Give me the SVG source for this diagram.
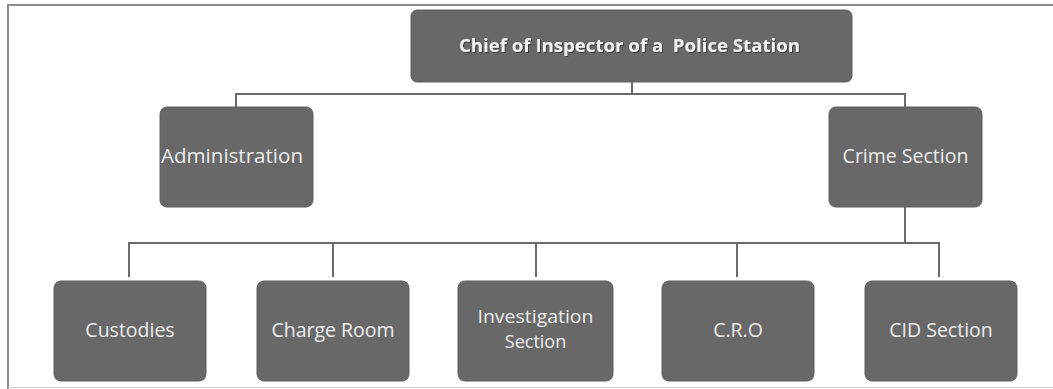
<svg xmlns="http://www.w3.org/2000/svg" width="1053" height="389" viewBox="0 0 1053 389">
  <style>
    .box { fill: #686868; stroke: #5e5e5e; stroke-width: 1; }
    .lbl { font-family: "Open Sans", "Liberation Sans", sans-serif; font-size: 19.5px; fill: #ececec; text-anchor: middle; }
    .lbl2 { font-size: 18px; }
    .title { font-family: "Open Sans", "Liberation Sans", sans-serif; font-size: 18.5px; font-weight: bold; fill: #f2f2f2; text-anchor: middle; white-space: pre; }
    .conn { fill: none; stroke: #6a6a6a; stroke-width: 2; }
    .frame { fill: none; stroke: #8c8c8c; stroke-width: 2; }
  </style>
  <defs>
    <filter id="txtShadow" x="-5%" y="-20%" width="110%" height="140%">
      <feDropShadow dx="1" dy="1" stdDeviation="0.6" flood-color="#202020" flood-opacity="0.6"/>
    </filter>
  </defs>

  <rect width="1053" height="389" fill="#ffffff"/>

  <!-- outer frame -->
  <g id="frame">
    <path class="frame" d="M8,389 V5 H1053"/>
    <line x1="8" y1="387.5" x2="1053" y2="387.5" stroke="#cfcfcf" stroke-width="1"/>
  </g>

  <!-- connectors -->
  <g id="connectors">
    <path class="conn" d="M632,82 V94"/>
    <path class="conn" d="M236,107 V94 H905 V107"/>
    <path class="conn" d="M905,207 V243"/>
    <path class="conn" d="M129,277 V243 H939 V277"/>
    <path class="conn" d="M333,243 V277"/>
    <path class="conn" d="M536,243 V277"/>
    <path class="conn" d="M737,243 V277"/>
  </g>

  <g id="chief">
    <rect class="box" x="411" y="10" width="441" height="72" rx="6"/>
    <text class="title" x="629.5" y="52" textLength="341" lengthAdjust="spacingAndGlyphs" filter="url(#txtShadow)">Chief of Inspector of a  Police Station</text>
  </g>

  <g id="administration">
    <rect class="box" x="160" y="107" width="153" height="100" rx="7"/>
    <text class="lbl" x="232" y="163" textLength="142" lengthAdjust="spacingAndGlyphs">Administration</text>
  </g>

  <g id="crime-section">
    <rect class="box" x="829" y="107" width="153" height="100" rx="7"/>
    <text class="lbl" x="905.5" y="163">Crime Section</text>
  </g>

  <g id="custodies">
    <rect class="box" x="54" y="281" width="152" height="100" rx="7"/>
    <text class="lbl" x="130" y="337">Custodies</text>
  </g>

  <g id="charge-room">
    <rect class="box" x="257" y="281" width="152" height="100" rx="7"/>
    <text class="lbl" x="333" y="337">Charge Room</text>
  </g>

  <g id="investigation-section">
    <rect class="box" x="458" y="281" width="155" height="100" rx="7"/>
    <text class="lbl lbl2" x="535.5" y="323"><tspan x="535.5" textLength="116" lengthAdjust="spacingAndGlyphs">Investigation</tspan><tspan x="535.5" dy="25">Section</tspan></text>
  </g>

  <g id="cro">
    <rect class="box" x="662" y="281" width="152" height="100" rx="7"/>
    <text class="lbl" x="738" y="337">C.R.O</text>
  </g>

  <g id="cid-section">
    <rect class="box" x="865" y="281" width="152" height="100" rx="7"/>
    <text class="lbl" x="941" y="337">CID Section</text>
  </g>
</svg>
